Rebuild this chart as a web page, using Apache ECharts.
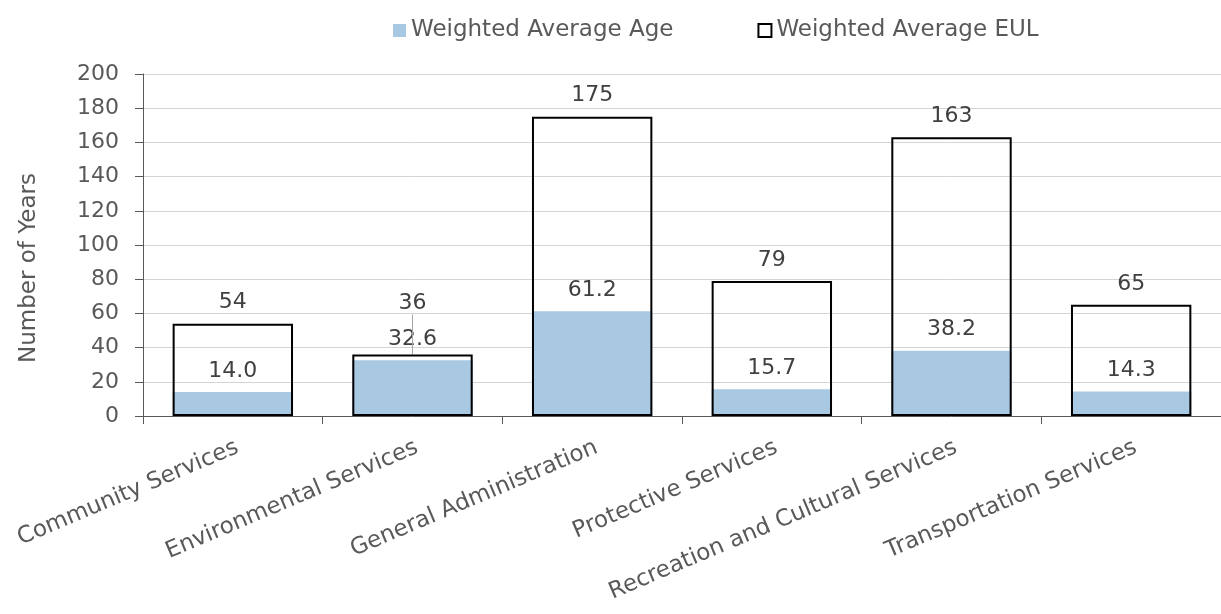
<!DOCTYPE html>
<html>
<head>
<meta charset="utf-8">
<script src="https://cdn.jsdelivr.net/npm/echarts@6/dist/echarts.min.js"></script>
<style>
  html, body { margin: 0; padding: 0; background: #fff; }
  #mychart { width: 1221px; height: 614px; }
</style>
</head>
<body>
<div id="mychart"></div>
<script>
// chart data
var categories = ['Community Services', 'Environmental Services', 'General Administration',
    'Protective Services', 'Recreation and Cultural Services', 'Transportation Services'];
var ageValues = [14.0, 32.6, 61.2, 15.7, 38.2, 14.3];
var eulValues = [54, 36, 175, 79, 163, 65];
var seriesNames = ['Weighted Average Age', 'Weighted Average EUL'];
var yTicks = { min: 0, max: 200, step: 20 };

var textGray = '#595959';
var labelGray = '#404040';
var fontName = 'DejaVu Sans';

function getCharts() {
    var myChart = echarts.init(document.getElementById('mychart'));

    // EUL label for Environmental is lifted so it does not sit on the age label
    var eulData = eulValues.map(function (v, i) {
        if (i == 1) {
            return { value: v, labelLine: { show: true } };
        }
        return v;
    });

    option = {
        animation: false,
        textStyle: { fontFamily: fontName },
        legend: {
            left: 388,
            top: 14,
            itemWidth: 13,
            itemHeight: 13,
            itemGap: 84,
            textStyle: { fontSize: 23, color: textGray, fontFamily: fontName },
            data: [
                { name: seriesNames[0], icon: 'rect', itemStyle: { color: '#a9c9e3', borderWidth: 0 } },
                { name: seriesNames[1], icon: 'rect', itemStyle: { color: '#fff', borderColor: '#000', borderWidth: 2 } }
            ]
        },
        grid: {
            left: 143,
            right: -11,
            top: 74,
            bottom: 198,
            containLabel: false
        },
        xAxis: {
            type: 'category',
            data: categories,
            axisLine: { show: true, lineStyle: { color: '#595959', width: 1 } },
            axisTick: { show: true, length: 8, lineStyle: { color: '#595959' } },
            axisLabel: {
                rotate: 23,
                interval: 0,
                margin: 20,
                verticalAlign: 'top',
                fontSize: 23,
                color: textGray,
                fontFamily: fontName
            }
        },
        yAxis: {
            type: 'value',
            min: yTicks.min,
            max: yTicks.max,
            interval: yTicks.step,
            name: 'Number of Years',
            nameLocation: 'middle',
            nameGap: 102,
            nameRotate: 90,
            nameTextStyle: { fontSize: 23, color: textGray, fontFamily: fontName, padding: [0, 46, 0, 0] },
            axisLine: { show: true, lineStyle: { color: '#595959', width: 1 } },
            axisTick: { show: true, length: 8, lineStyle: { color: '#595959' } },
            axisLabel: { margin: 24, fontSize: 22, color: textGray, fontFamily: fontName },
            splitLine: { show: true, lineStyle: { color: '#d4d4d4', width: 1 } }
        },
        series: [
            {
                name: seriesNames[0],
                type: 'bar',
                data: ageValues,
                barCategoryGap: '33%',
                itemStyle: { color: '#a9c9e3' },
                label: {
                    show: true,
                    position: 'top',
                    distance: 10,
                    fontSize: 22,
                    color: labelGray,
                    fontFamily: fontName,
                    formatter: function (p) { return p.value.toFixed(1) }
                },
                z: 2
            },
            {
                name: seriesNames[1],
                type: 'bar',
                data: eulData,
                barGap: '-100%',
                barCategoryGap: '33%',
                itemStyle: { color: 'rgba(0,0,0,0)', borderColor: '#000', borderWidth: 2 },
                label: {
                    show: true,
                    position: 'top',
                    distance: 10,
                    fontSize: 22,
                    color: labelGray,
                    fontFamily: fontName
                },
                labelLine: { show: false, lineStyle: { color: '#a6a6a6', width: 1 } },
                labelLayout: function (params) {
                    if (params.dataIndex == 1) {
                        return { dy: -30 };
                    }
                    return {};
                },
                z: 3
            }
        ]
    };

    myChart.setOption(option);
}

getCharts();
</script>
</body>
</html>
